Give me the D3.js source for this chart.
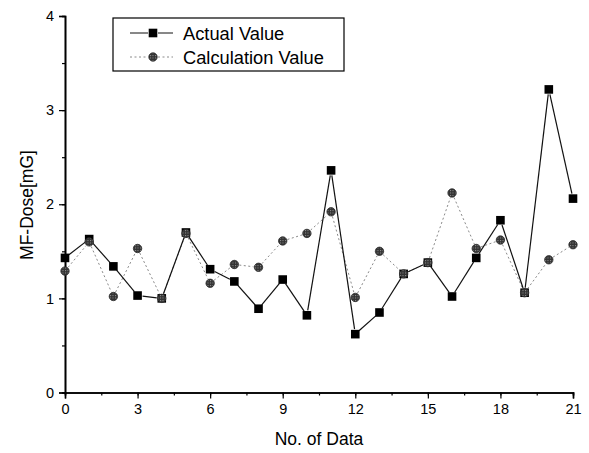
<!DOCTYPE html>
<html>
<head>
<meta charset="utf-8">
<script src="https://cdn.jsdelivr.net/npm/d3@7/dist/d3.min.js"></script>
<style>
  html, body { margin: 0; padding: 0; background: #fff; }
  svg { display: block; font-family: "Liberation Sans", Arial, sans-serif; }
</style>
</head>
<body>
<svg id="chart" width="589" height="453"></svg>
<script>
// Measurement index (No. of Data)
const dataIndex = [0,1,2,3,4,5,6,7,8,9,10,11,12,13,14,15,16,17,18,19,20,21];
// Measured magnetic-field dose [mG]
const actualValues = [1.43,1.63,1.34,1.03,1.00,1.70,1.31,1.18,0.89,1.20,0.82,2.36,0.62,0.85,1.26,1.38,1.02,1.43,1.83,1.06,3.22,2.06];
// Calculated magnetic-field dose [mG]
const calcValues = [1.29,1.60,1.02,1.53,1.00,1.69,1.16,1.36,1.33,1.61,1.69,1.92,1.01,1.50,1.26,1.38,2.12,1.53,1.62,1.06,1.41,1.57];
const xTicks = [0,3,6,9,12,15,18,21];
const yTicks = [0,1,2,3,4];
const seriesNames = ["Actual Value", "Calculation Value"];

const svg = d3.select("#chart");
const x = d3.scaleLinear().domain([0, 21]).range([65, 573]);
const y = d3.scaleLinear().domain([0, 4]).range([392.5, 16]);

// Axes: major ticks labelled, minor ticks halfway between
const xMinor = d3.range(0, 21.01, 1.5);
const yMinor = d3.range(0, 4.01, 0.5);

const gx = svg.append("g").attr("transform", `translate(0,${y(0)})`);
gx.call(d3.axisBottom(x).tickValues(xMinor).tickSize(3).tickFormat(""));
gx.call(g => g.append("g").call(d3.axisBottom(x).tickValues(xTicks).tickSize(6).tickPadding(5).tickFormat(d3.format("d"))));
const gy = svg.append("g").attr("transform", `translate(${x(0)},0)`);
gy.call(d3.axisLeft(y).tickValues(yMinor).tickSize(3).tickFormat(""));
gy.call(g => g.append("g").call(d3.axisLeft(y).tickValues(yTicks).tickSize(6).tickPadding(5).tickFormat(d3.format("d"))));

svg.selectAll(".domain").attr("stroke", "#000").attr("stroke-width", 1.6);
svg.selectAll(".tick line").attr("stroke", "#000").attr("stroke-width", 1.2);
svg.selectAll(".tick text").attr("font-size", 14.5).attr("fill", "#000")
   .attr("font-family", "'Liberation Sans', Arial, sans-serif");

// Axis titles
svg.append("text").attr("x", 319).attr("y", 445).attr("text-anchor", "middle")
  .attr("font-size", 17.5).text("No. of Data");
svg.append("text").attr("transform", "translate(33,205) rotate(-90)")
  .attr("text-anchor", "middle").attr("font-size", 17.5).text("MF-Dose[mG]");

// Segments between consecutive points, trimmed so they stop short of the markers
function segments(vals, gap) {
  const pts = vals.map((v, i) => [x(dataIndex[i]), y(v)]);
  const segs = [];
  for (let i = 0; i < pts.length - 1; i++) {
    const [x1, y1] = pts[i], [x2, y2] = pts[i + 1];
    const len = Math.hypot(x2 - x1, y2 - y1);
    if (len <= 2 * gap) continue;
    const ux = (x2 - x1) / len, uy = (y2 - y1) / len;
    segs.push([x1 + ux * gap, y1 + uy * gap, x2 - ux * gap, y2 - uy * gap]);
  }
  return segs;
}

// Calculation series: light dotted line, hatched grey circles
svg.append("g").selectAll("line").data(segments(calcValues, 5)).join("line")
  .attr("x1", d => d[0]).attr("y1", d => d[1]).attr("x2", d => d[2]).attr("y2", d => d[3])
  .attr("stroke", "#8a8a8a").attr("stroke-width", 1).attr("stroke-dasharray", "2,2.5");

// Actual series: solid black line
svg.append("g").selectAll("line").data(segments(actualValues, 5)).join("line")
  .attr("x1", d => d[0]).attr("y1", d => d[1]).attr("x2", d => d[2]).attr("y2", d => d[3])
  .attr("stroke", "#111").attr("stroke-width", 1.2);

// Hatched fill for circular markers
const defs = svg.append("defs");
const pat = defs.append("pattern").attr("id", "hatch").attr("patternUnits", "userSpaceOnUse")
  .attr("width", 2.5).attr("height", 2.5);
pat.append("rect").attr("width", 2.5).attr("height", 2.5).attr("fill", "#333");
pat.append("rect").attr("width", 1).attr("height", 1).attr("fill", "#999");

function drawCircles(g, cxs, cys) {
  g.selectAll("circle").data(cxs.map((c, i) => [c, cys[i]])).join("circle")
    .attr("cx", d => d[0]).attr("cy", d => d[1]).attr("r", 4.2)
    .attr("fill", "url(#hatch)").attr("stroke", "#2a2a2a").attr("stroke-width", 0.8);
}
function drawSquares(g, cxs, cys) {
  g.selectAll("rect").data(cxs.map((c, i) => [c, cys[i]])).join("rect")
    .attr("x", d => d[0] - 4.3).attr("y", d => d[1] - 4.3)
    .attr("width", 8.6).attr("height", 8.6).attr("fill", "#000");
}

drawSquares(svg.append("g"), dataIndex.map(x), actualValues.map(y));
drawCircles(svg.append("g"), dataIndex.map(x), calcValues.map(y));

// Legend
const lg = svg.append("g");
lg.append("rect").attr("x", 113).attr("y", 18).attr("width", 231).attr("height", 53)
  .attr("fill", "#fff").attr("stroke", "#000").attr("stroke-width", 1.2);
const rows = [33, 57];
// Actual entry
lg.append("line").attr("x1", 130).attr("x2", 148).attr("y1", rows[0]).attr("y2", rows[0]).attr("stroke", "#111");
lg.append("line").attr("x1", 158).attr("x2", 173).attr("y1", rows[0]).attr("y2", rows[0]).attr("stroke", "#111");
drawSquares(lg.append("g"), [153], [rows[0]]);
// Calculation entry
lg.append("line").attr("x1", 130).attr("x2", 148).attr("y1", rows[1]).attr("y2", rows[1])
  .attr("stroke", "#8a8a8a").attr("stroke-dasharray", "2,2.5");
lg.append("line").attr("x1", 158).attr("x2", 173).attr("y1", rows[1]).attr("y2", rows[1])
  .attr("stroke", "#8a8a8a").attr("stroke-dasharray", "2,2.5");
drawCircles(lg.append("g"), [153], [rows[1]]);
lg.selectAll("text.lbl").data(seriesNames).join("text").attr("class", "lbl")
  .attr("x", 183).attr("y", (d, i) => rows[i] + 6.5).attr("font-size", 18.3).text(d => d);
</script>
</body>
</html>
